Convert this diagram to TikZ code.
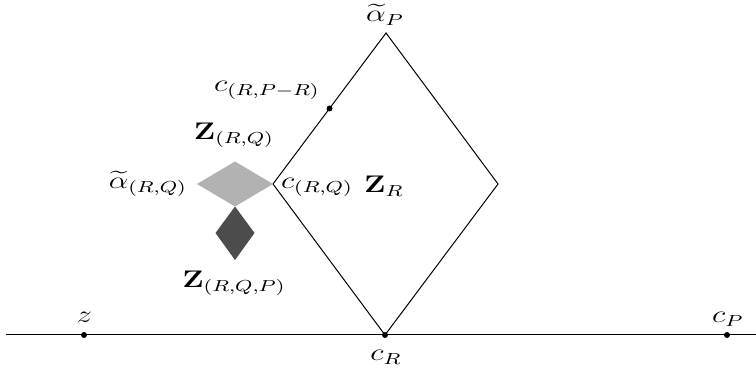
\documentclass[tikz,border=0pt]{standalone}
\usepackage{amsmath}
\begin{document}
\begin{tikzpicture}[x=0.5pt,y=-0.5pt,
  dot/.style={circle,fill=black,inner sep=0pt,minimum size=3pt},
  lbl/.style={inner sep=0pt,anchor=base,xscale=1.3,transform shape,font=\fontsize{11.5}{14}\selectfont},
  edge/.style={line width=0.5pt}]
\useasboundingbox (0,0) rectangle (756,368);
% baseline
\coordinate (L) at (6,335);
\coordinate (Rt) at (756,335);
\draw[edge] (L) -- (Rt);
% big diamond
\coordinate (top) at (386,33);
\coordinate (right) at (498,184);
\coordinate (bot) at (385,335);
\coordinate (left) at (273,184);
\draw[edge] (top) -- (right) -- (bot) -- (left) -- cycle;
% small diamonds
\fill[black!30] (197,184) -- (235,161.5) -- (left) -- (235,206.5) -- cycle;
\fill[black!70] (235,206.5) -- (254.5,233) -- (235,260) -- (215.5,233) -- cycle;
% dots
\node[dot] (z) at (84,335) {};
\node[dot] (cR) at (bot) {};
\node[dot] (cP) at (727,335) {};
\node[dot] (cRPR) at (329.5,108.5) {};
% labels
\node[lbl] (aP) at (385,22) {$\widetilde{\alpha}_P$};
\node[lbl] (lcRPR) at (267,92) {$c_{(R,P-R)}$};
\node[lbl] (ZRQ) at (234,140) {$\mathbf{Z}_{(R,Q)}$};
\node[lbl] (aRQ) at (148,189) {$\widetilde{\alpha}_{(R,Q)}$};
\node[lbl] (cRQ) at (317,189) {$c_{(R,Q)}$};
\node[lbl] (ZR) at (384,193) {$\mathbf{Z}_R$};
\node[lbl] (ZRQP) at (234,288) {$\mathbf{Z}_{(R,Q,P)}$};
\node[lbl] (lz) at (84.5,323) {$z$};
\node[lbl] (lcR) at (386,361) {$c_R$};
\node[lbl] (lcP) at (728,323) {$c_P$};
\end{tikzpicture}
\end{document}
